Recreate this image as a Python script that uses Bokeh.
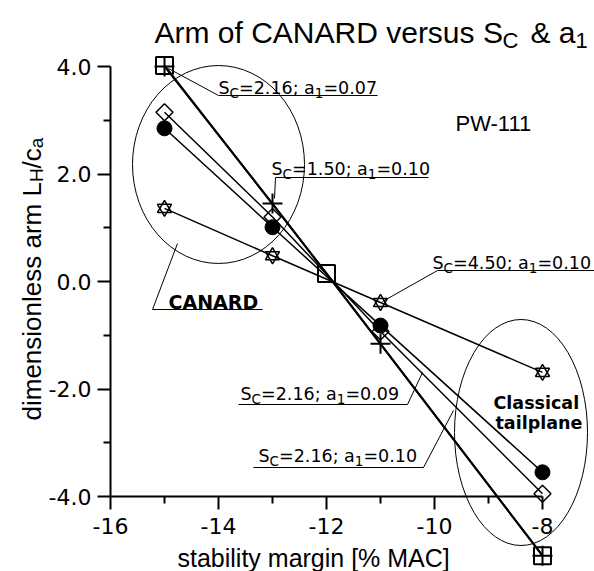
import math
from bokeh.plotting import figure
from bokeh.models import Range1d, FixedTicker, Label
from bokeh.embed import file_html
from bokeh.resources import INLINE

# ---------------- data ----------------
stab = [-15, -13, -11, -8]                  # stability margin [% MAC]
arm_dot = [2.85, 1.01, -0.82, -3.55]        # filled circles
arm_diamond = [3.15, 1.20, -0.93, -3.95]    # open diamonds
arm_star = [1.36, 0.48, -0.39, -1.69]       # hexagrams
arm_plus = [4.00, 1.45, -1.16, -5.10]       # crosses
stab_sq = [-15, -12, -8]
arm_sq = [4.02, 0.15, -5.10]                # open squares

x_ticks = [-16, -14, -12, -10, -8]
x_tick_labels = ["-16", "-14", "-12", "-10", "-8"]
x_minor = [-15, -13, -11, -9]
y_ticks = [-4, -2, 0, 2, 4]
y_tick_labels = ["-4.0", "-2.0", "0.0", "2.0", "4.0"]
y_minor = [-3, -1, 1, 3]

case_sc = ["2.16", "1.50", "4.50", "2.16", "2.16"]
case_a1 = ["0.07", "0.10", "0.10", "0.09", "0.10"]

title_parts = ["Arm of CANARD versus S", "C", "& a", "1"]
ylabel_parts = [("dimensionless arm L", False), ("H", True), ("/c", False), ("a", True)]
xlabel = "stability margin [% MAC]"

# ---------------- layout helpers (canvas pixels -> data) ----------------
W, H = 594, 571


def X(px):
    return -16 + (px - 110) / 54.0


def Y(py):
    return (281 - py) / 53.75


DJ = {' ': 0.318, 'S': 0.635, 'C': 0.698, '=': 0.838, '.': 0.318, ';': 0.337, 'a': 0.613}
for d in "0123456789":
    DJ[d] = 0.636
AR = {' ': 0.278, 'A': 0.667, 'r': 0.333, 'm': 0.833, 'o': 0.556, 'f': 0.278, 'C': 0.722,
      'N': 0.722, 'R': 0.722, 'D': 0.722, 'v': 0.5, 'e': 0.556, 's': 0.5, 'u': 0.556,
      'S': 0.667, '&': 0.667, 'a': 0.556, '1': 0.556, 'd': 0.556, 'i': 0.222, 'n': 0.556,
      'l': 0.222, 'L': 0.556, 'H': 0.722, '/': 0.278, 'c': 0.5}


def tw(s, size, table):
    return sum(table.get(ch, 0.6) for ch in s) * size


p = figure(width=W, height=H, output_backend="svg", toolbar_location=None,
           x_range=Range1d(X(0), X(W)), y_range=Range1d(Y(H), Y(0)),
           min_border_left=0, min_border_right=0, min_border_top=0, min_border_bottom=0)
p.outline_line_color = None
p.xgrid.visible = False
p.ygrid.visible = False
p.background_fill_color = "white"
p.border_fill_color = "white"

for ax, ticks, minor, labels in ((p.xaxis[0], x_ticks, x_minor, x_tick_labels),
                                 (p.yaxis[0], y_ticks, y_minor, y_tick_labels)):
    ax.ticker = FixedTicker(ticks=ticks, minor_ticks=minor)
    ax.major_label_overrides = dict(zip(ticks, labels))
    ax.axis_line_width = 2
    ax.axis_line_color = "black"
    ax.major_tick_line_width = 2
    ax.minor_tick_line_width = 2
    ax.major_tick_out = 13
    ax.major_tick_in = 0
    ax.minor_tick_out = 7
    ax.minor_tick_in = 0
    ax.major_label_text_font = "DejaVu Sans"
    ax.major_label_text_font_size = "22px"
    ax.major_label_text_color = "black"
    ax.major_label_standoff = 6

p.xaxis[0].fixed_location = -4
p.xaxis[0].bounds = (-16, -8)
p.xaxis[0].major_label_standoff = 8
p.yaxis[0].fixed_location = -16
p.yaxis[0].bounds = (-4, 4)

# ---------------- ellipses (callout regions) ----------------
p.ellipse(x=[X(218), X(520.5)], y=[Y(164), Y(432)], width=[172, 133], height=[198, 226],
          width_units="screen", height_units="screen", fill_color=None,
          line_color="black", line_width=1)

# ---------------- series lines ----------------
for ys in (arm_dot, arm_diamond, arm_star):
    p.line(stab, ys, line_color="black", line_width=1.5)
p.line(stab, arm_plus, line_color="black", line_width=2)
p.line(stab_sq, arm_sq, line_color="black", line_width=2)

# ---------------- markers ----------------
p.scatter(stab, arm_dot, marker="circle", size=15, fill_color="black", line_color="black")
p.scatter(stab, arm_diamond, marker="square", angle=math.pi / 4, size=12,
          fill_color=None, line_color="black", line_width=1.5)
p.scatter(stab, arm_star, marker="triangle", size=14, fill_color=None, line_color="black", line_width=1.5)
p.scatter(stab, arm_star, marker="inverted_triangle", size=14, fill_color=None, line_color="black", line_width=1.5)
p.scatter(stab, arm_plus, marker="cross", size=20, line_color="black", line_width=2)
p.scatter(stab_sq, arm_sq, marker="square", size=17, fill_color=None, line_color="black", line_width=2)

# ---------------- callout lines ----------------
underlines = [(218, 377, 95), (275, 428, 177), (437, 594, 270), (238, 407, 404), (253, 423, 467), (152, 262, 309)]
leaders = [((168, 68), (218, 95)), ((275, 177), (274, 198)), ((437, 270), (382, 301)),
           ((407, 404), (422, 372)), ((423, 467), (453, 410)), ((152, 309), (177, 243))]
xs, ys = [], []
for a, b, yy in underlines:
    xs.append([X(a), X(b)])
    ys.append([Y(yy), Y(yy)])
for (a, b), (c, d) in leaders:
    xs.append([X(a), X(c)])
    ys.append([Y(b), Y(d)])
p.multi_line(xs, ys, line_color="black", line_width=1)


# ---------------- texts ----------------
def put(text, px, py, size, font, bold=False, angle=0.0):
    p.add_layout(Label(x=X(px), y=Y(py), text=text, text_font=font,
                       text_font_size=f"{size}px", text_font_style="bold" if bold else "normal",
                       text_baseline="alphabetic", text_align="left", angle=angle,
                       text_color="black"))


def rich(parts, px, py, size, sub_size, drop, font, table):
    x = px
    for txt, sub in parts:
        s = sub_size if sub else size
        put(txt, x, py + (drop if sub else 0), s, font)
        x += tw(txt, s, table)


def rich_vertical(parts, px, py, size, sub_size, drop, font, table):
    y = py
    for txt, sub in parts:
        s = sub_size if sub else size
        put(txt, px + (drop if sub else 0), y, s, font, angle=math.pi / 2)
        y -= tw(txt, s, table)


# title (pieces placed as in the reference)
put(title_parts[0], 154, 32, 30, "Liberation Sans")
put(title_parts[1], 502, 40, 22, "Liberation Sans")
put(title_parts[2], 530, 32, 30, "Liberation Sans")
put(title_parts[3], 575, 40, 22, "Liberation Sans")
# axis titles
rich_vertical(ylabel_parts, 31, 420, 26, 19, 5, "Liberation Sans", AR)
put(xlabel, 177, 557, 25, "Liberation Sans")

# case annotations
ann_pos = [(218, 87), (271, 168), (432, 262), (240, 393), (258, 455)]
for (px, py), sc, a1 in zip(ann_pos, case_sc, case_a1):
    parts = [("S", False), ("C", True), ("=" + sc + "; a", False), ("1", True), ("=" + a1, False)]
    rich(parts, px, py, 17.5, 13.5, 5, "DejaVu Sans", DJ)

put("PW-111", 455, 123, 22, "Liberation Sans")
put("CANARD", 168, 301, 19, "DejaVu Sans", bold=True)
put("Classical", 493, 402, 17.5, "DejaVu Sans", bold=True)
put("tailplane", 495, 422, 17.5, "DejaVu Sans", bold=True)

open("out.html", "w").write(file_html(p, INLINE))
